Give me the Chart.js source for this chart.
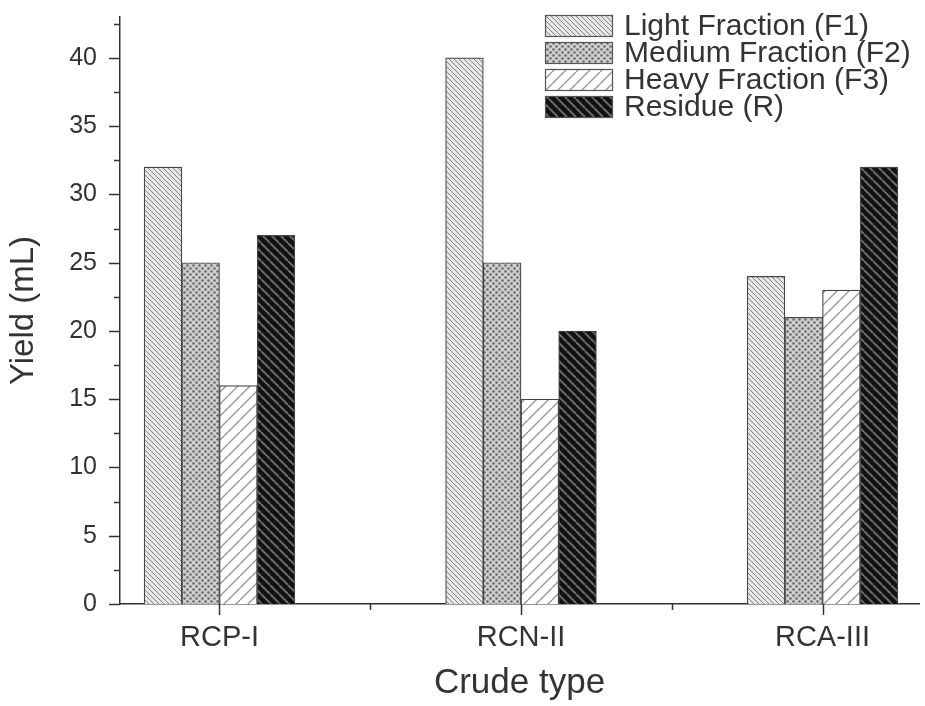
<!DOCTYPE html>
<html>
<head>
<meta charset="utf-8">
<script src="https://cdn.jsdelivr.net/npm/chart.js@4.4.1/dist/chart.umd.min.js"></script>
<style>
  html, body { margin: 0; padding: 0; background: #fff; }
  #wrap { width: 925px; height: 706px; }
</style>
</head>
<body>
<div id="wrap"><canvas id="chart" width="925" height="706"></canvas></div>
<script>
const crudeTypes = ['RCP-I', 'RCN-II', 'RCA-III'];
const seriesNames = ['Light Fraction (F1)', 'Medium Fraction (F2)', 'Heavy Fraction (F3)', 'Residue (R)'];
const lightF1 = [32, 40, 24];
const mediumF2 = [25, 25, 21];
const heavyF3 = [16, 15, 23];
const residueR = [27, 20, 32];
const yMajorTicks = [0, 5, 10, 15, 20, 25, 30, 35, 40];
const yMinorTicks = [2.5, 7.5, 12.5, 17.5, 22.5, 27.5, 32.5, 37.5, 42.5];
const xMinorTicks = [1.5, 2.5];

const INK = '#333';
const FONT = "'Liberation Sans', Arial, sans-serif";

// diagonal hatch tile; dir 1 = "\" lines, dir -1 = "/" lines
function hatch(size, bg, fg, lw, dir) {
  const c = document.createElement('canvas');
  c.width = size; c.height = size;
  const g = c.getContext('2d');
  g.fillStyle = bg;
  g.fillRect(0, 0, size, size);
  g.strokeStyle = fg;
  g.lineWidth = lw;
  for (let k = -1; k <= 1; k++) {
    g.beginPath();
    if (dir > 0) {
      g.moveTo(k * size, 0);
      g.lineTo(k * size + size, size);
    } else {
      g.moveTo(k * size + size, 0);
      g.lineTo(k * size, size);
    }
    g.stroke();
  }
  return g.createPattern(c, 'repeat');
}

function dots(size, bg, fg, r) {
  const c = document.createElement('canvas');
  c.width = size; c.height = size;
  const g = c.getContext('2d');
  g.fillStyle = bg;
  g.fillRect(0, 0, size, size);
  g.fillStyle = fg;
  [[size / 4, size / 4], [size * 3 / 4, size * 3 / 4]].forEach(p => {
    g.beginPath();
    g.arc(p[0], p[1], r, 0, Math.PI * 2);
    g.fill();
  });
  return g.createPattern(c, 'repeat');
}

const fills = [
  hatch(5, '#e6e6e6', '#858585', 1, 1),
  dots(6, '#d0d0d0', '#686868', 1.3),
  hatch(12, '#ffffff', '#9a9a9a', 1.4, -1),
  hatch(9, '#111111', '#6a6a6a', 2, 1)
];

const seriesValues = [lightF1, mediumF2, heavyF3, residueR];
const datasets = seriesValues.map((vals, s) => ({
  label: seriesNames[s],
  data: vals.map((v, i) => ({ x: i + 1, y: v })),
  backgroundColor: fills[s],
  borderColor: '#444',
  borderWidth: 1.2
}));

// outward tick marks, long for labelled ticks and short for minor ones
const tickMarks = {
  id: 'tickMarks',
  afterDraw(chart, args, opts) {
    const ctx = chart.ctx;
    const area = chart.chartArea;
    ctx.save();
    ctx.strokeStyle = INK;
    ctx.lineWidth = 1.5;
    chart.scales.y.ticks.forEach(t => {
      const y = Math.round(chart.scales.y.getPixelForValue(t.value)) + 0.5;
      const len = t.label ? opts.major : opts.minor;
      ctx.beginPath();
      ctx.moveTo(area.left, y);
      ctx.lineTo(area.left - len, y);
      ctx.stroke();
    });
    chart.scales.x.ticks.forEach(t => {
      const x = Math.round(chart.scales.x.getPixelForValue(t.value)) + 0.5;
      const len = t.label ? opts.major : opts.minor;
      ctx.beginPath();
      ctx.moveTo(x, area.bottom);
      ctx.lineTo(x, area.bottom + len);
      ctx.stroke();
    });
    ctx.restore();
  }
};

// boxed legend in the top right corner
const boxLegend = {
  id: 'boxLegend',
  afterDraw(chart, args, opts) {
    const ctx = chart.ctx;
    ctx.save();
    ctx.font = opts.fontSize + 'px ' + FONT;
    ctx.textBaseline = 'middle';
    chart.data.datasets.forEach((ds, i) => {
      const top = opts.top + i * opts.step;
      ctx.fillStyle = ds.backgroundColor;
      ctx.fillRect(opts.left, top, opts.boxW, opts.boxH);
      ctx.strokeStyle = '#555';
      ctx.lineWidth = 1.2;
      ctx.strokeRect(opts.left + 0.5, top + 0.5, opts.boxW, opts.boxH);
      ctx.fillStyle = INK;
      ctx.fillText(ds.label, opts.left + opts.boxW + 12, top + opts.boxH / 2 + 1);
    });
    ctx.restore();
  }
};

new Chart(document.getElementById('chart'), {
  type: 'bar',
  data: { datasets },
  plugins: [tickMarks, boxLegend],
  options: {
    responsive: false,
    animation: false,
    devicePixelRatio: 1,
    layout: { padding: { top: 17, right: 6, left: 0, bottom: 0 } },
    datasets: { bar: { categoryPercentage: 1, barPercentage: 1 } },
    plugins: {
      legend: { display: false },
      tooltip: { enabled: false },
      tickMarks: { major: 11, minor: 6 },
      boxLegend: { left: 545, top: 15, step: 27, boxW: 67, boxH: 21, fontSize: 30 }
    },
    scales: {
      x: {
        type: 'linear',
        min: 0.67,
        max: 3.32,
        offset: false,
        grid: { display: false, offset: false, drawTicks: true, tickLength: 11 },
        border: { display: true, color: INK, width: 1.5 },
        afterBuildTicks: scale => {
          scale.ticks = [1, 2, 3].concat(xMinorTicks).sort((a, b) => a - b).map(v => ({ value: v }));
        },
        afterFit: scale => { scale.height = 102; },
        ticks: {
          autoSkip: false,
          maxRotation: 0,
          padding: 6,
          color: INK,
          font: { family: FONT, size: 29 },
          callback: v => Number.isInteger(v) ? crudeTypes[v - 1] : ''
        },
        title: {
          display: true,
          text: 'Crude type',
          color: INK,
          font: { family: FONT, size: 35 },
          padding: { top: 0, bottom: 2 }
        }
      },
      y: {
        min: 0,
        max: 43,
        grid: { display: false, drawTicks: true, tickLength: 11 },
        border: { display: true, color: INK, width: 1.5 },
        afterBuildTicks: scale => {
          scale.ticks = yMajorTicks.concat(yMinorTicks).sort((a, b) => a - b).map(v => ({ value: v }));
        },
        afterFit: scale => {
          scale.width = 120;
          scale.paddingTop = 0;
          scale.paddingBottom = 0;
        },
        ticks: {
          autoSkip: false,
          padding: 12,
          color: INK,
          font: { family: FONT, size: 25 },
          callback: v => yMajorTicks.includes(v) ? String(v) : ''
        },
        title: {
          display: true,
          text: 'Yield (mL)',
          color: INK,
          font: { family: FONT, size: 33 },
          padding: { top: 4, bottom: 0 }
        }
      }
    }
  }
});
</script>
</body>
</html>
